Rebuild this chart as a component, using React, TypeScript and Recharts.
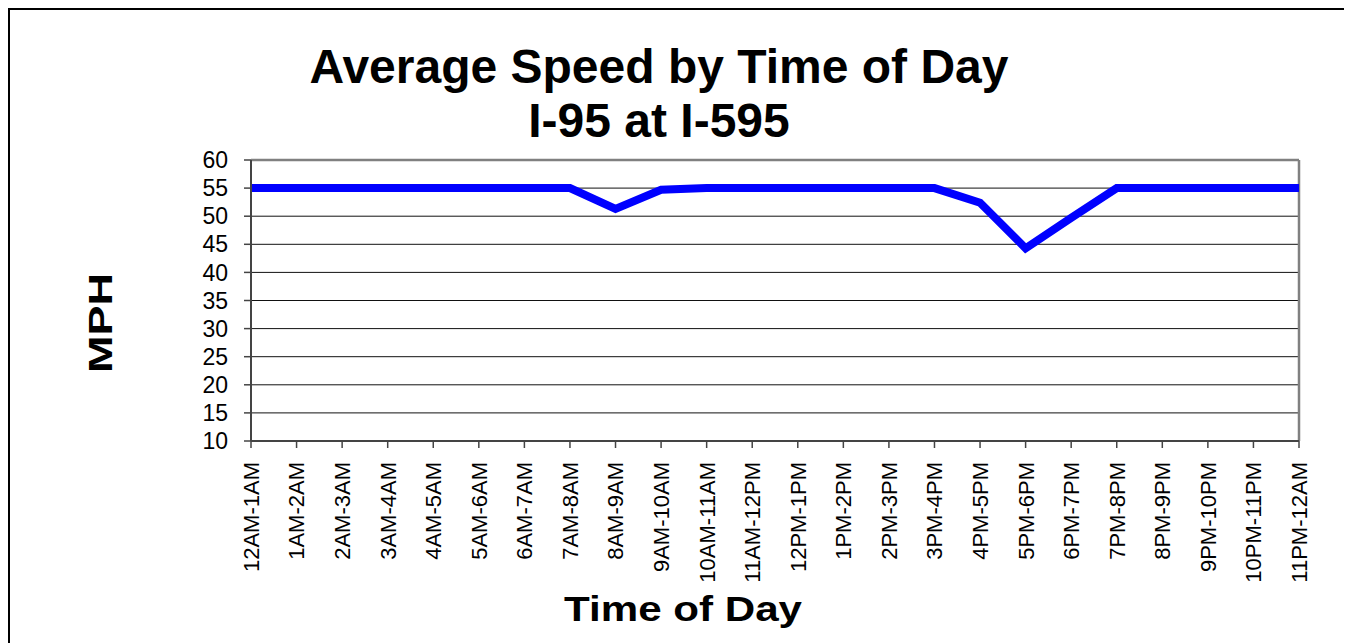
import React from "react";
import { LineChart, Line, XAxis, YAxis, CartesianGrid, ReferenceLine } from "recharts";

const categories = [
  "12AM-1AM", "1AM-2AM", "2AM-3AM", "3AM-4AM", "4AM-5AM", "5AM-6AM", "6AM-7AM", "7AM-8AM",
  "8AM-9AM", "9AM-10AM", "10AM-11AM", "11AM-12PM", "12PM-1PM", "1PM-2PM", "2PM-3PM", "3PM-4PM",
  "4PM-5PM", "5PM-6PM", "6PM-7PM", "7PM-8PM", "8PM-9PM", "9PM-10PM", "10PM-11PM", "11PM-12AM",
];

const speeds = [
  55, 55, 55, 55, 55, 55, 55, 55,
  51.3, 54.7, 55, 55, 55, 55, 55, 55,
  52.4, 44.3, 49.7, 55, 55, 55, 55, 55,
];

const yTicks = [10, 15, 20, 25, 30, 35, 40, 45, 50, 55, 60];

const data = categories.map((t, i) => ({ t, mph: speeds[i] }));

const FONT = "'Liberation Sans', Arial, Helvetica, sans-serif";

const W = 1340;
const H = 640;

const XTick = (props: any) => {
  const { x, y, payload } = props;
  return (
    <text
      x={x}
      y={y}
      transform={`rotate(-90, ${x}, ${y})`}
      textAnchor="end"
      dy="0.36em"
      fontSize={22}
      fontFamily={FONT}
      fill="#000"
    >
      {payload.value}
    </text>
  );
};

export default function App() {
  return (
    <div
      style={{
        position: "relative",
        width: W,
        height: H,
        border: "2px solid #000",
        background: "#fff",
        fontFamily: FONT,
      }}
    >
      <LineChart
        width={W}
        height={H}
        data={data}
        margin={{ top: 150, right: 51, bottom: 29, left: 161 }}
      >
        <CartesianGrid vertical={false} stroke="#111" strokeWidth={1} />
        <XAxis
          dataKey="t"
          interval={0}
          tick={<XTick />}
          tickSize={7}
          tickMargin={14}
          height={180}
          stroke="#444"
          axisLine={{ strokeWidth: 2 }}
          tickLine={{ strokeWidth: 1.5 }}
        />
        <YAxis
          domain={[10, 60]}
          ticks={yTicks}
          interval={0}
          width={80}
          tickSize={7}
          tickMargin={16}
          stroke="#444"
          axisLine={{ strokeWidth: 2 }}
          tickLine={{ strokeWidth: 1.5 }}
          tick={{ fill: "#000", fontSize: 23, fontFamily: FONT }}
        />
        <ReferenceLine y={60} stroke="#808080" strokeWidth={2.5} />
        <ReferenceLine x={categories[categories.length - 1]} stroke="#808080" strokeWidth={2.5} />
        <Line
          type="linear"
          dataKey="mph"
          stroke="#0000FF"
          strokeWidth={8}
          dot={false}
          activeDot={false}
          isAnimationActive={false}
        />
      </LineChart>
      <svg
        width={W}
        height={H}
        style={{ position: "absolute", left: 0, top: 0, pointerEvents: "none" }}
      >
        <text x={649} y={73} textAnchor="middle" fontSize={48} fontWeight="bold" fontFamily={FONT} fill="#000">
          Average Speed by Time of Day
        </text>
        <text x={649} y={127} textAnchor="middle" fontSize={48} fontWeight="bold" fontFamily={FONT} fill="#000">
          I-95 at I-595
        </text>
        <text
          x={673}
          y={611}
          textAnchor="middle"
          fontSize={35}
          fontWeight="bold"
          fontFamily={FONT}
          fill="#000"
          textLength={238}
          lengthAdjust="spacingAndGlyphs"
        >
          Time of Day
        </text>
        <text
          transform="translate(102,313) rotate(-90)"
          textAnchor="middle"
          fontSize={34}
          fontWeight="bold"
          fontFamily={FONT}
          fill="#000"
          textLength={100}
          lengthAdjust="spacingAndGlyphs"
        >
          MPH
        </text>
      </svg>
    </div>
  );
}
